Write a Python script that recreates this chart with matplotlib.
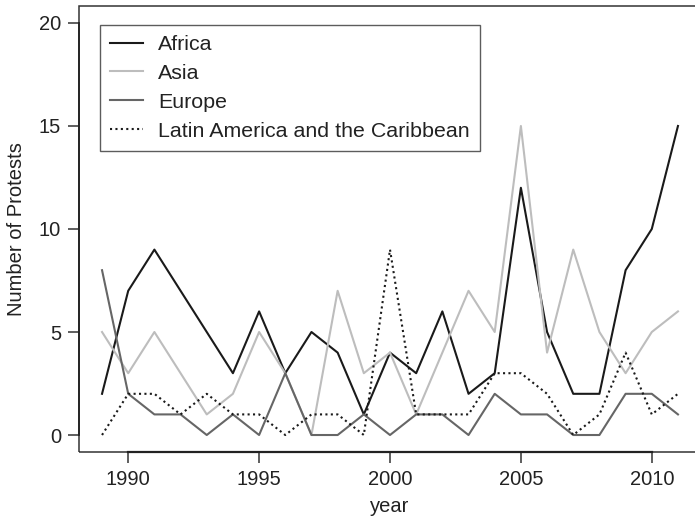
import matplotlib
matplotlib.use("Agg")
import matplotlib.pyplot as plt
from matplotlib.patches import Rectangle

plt.rcParams['font.family'] = ['Liberation Sans', 'DejaVu Sans']

years = list(range(1989, 2012))
africa = [2, 7, 9, 7, 5, 3, 6, 3, 5, 4, 1, 4, 3, 6, 2, 3, 12, 5, 2, 2, 8, 10, 15]
asia = [5, 3, 5, 3, 1, 2, 5, 3, 0, 7, 3, 4, 1, 4, 7, 5, 15, 4, 9, 5, 3, 5, 6]
europe = [8, 2, 1, 1, 0, 1, 0, 3, 0, 0, 1, 0, 1, 1, 0, 2, 1, 1, 0, 0, 2, 2, 1]
latam = [0, 2, 2, 1, 2, 1, 1, 0, 1, 1, 0, 9, 1, 1, 1, 3, 3, 2, 0, 1, 4, 1, 2]
labels = ["Africa", "Asia", "Europe", "Latin America and the Caribbean"]
xticks = [1990, 1995, 2000, 2005, 2010]
yticks = [0, 5, 10, 15, 20]

W, H = 695, 518
fig = plt.figure(figsize=(W / 100, H / 100), dpi=100)
left, right, top, bottom = 79, 701, 6.5, 451.7
ax = fig.add_axes([left / W, (H - bottom) / H, (right - left) / W, (bottom - top) / H])

lw = 1.5
ax.plot(years, africa, color="#1a1a1a", lw=lw, label=labels[0])
ax.plot(years, asia, color="#bdbdbd", lw=lw, label=labels[1])
ax.plot(years, europe, color="#666666", lw=lw, label=labels[2])
ax.plot(years, latam, color="#1a1a1a", lw=lw, ls=(0, (1, 1.6)), label=labels[3])

ax.set_xlim(1988.12, 2011.88)
ax.set_ylim(-0.81, 20.8)
ax.set_xticks(xticks)
ax.set_yticks(yticks)

fs = 14.5
for s in ["top", "right"]:
    ax.spines[s].set_visible(False)
ax.spines["left"].set_bounds(0, 20)
ax.spines["bottom"].set_bounds(1990, 2010)
ax.spines["left"].set_linewidth(1.3)
ax.spines["bottom"].set_linewidth(1.6)
ax.spines["left"].set_color("#222222")
ax.spines["bottom"].set_color("#222222")
ax.add_patch(Rectangle((0, 0), 1, 1, transform=ax.transAxes, fill=False,
                       lw=1.1, edgecolor="#333333", clip_on=False, zorder=0.5))

ax.tick_params(axis="both", direction="out", length=8, width=1.1, color="#333333",
               labelsize=fs, labelcolor="#222222")
ax.tick_params(axis="x", pad=5)
ax.tick_params(axis="y", pad=5)

ax.set_xlabel("year", fontsize=fs, color="#222222", labelpad=6)
ax.set_ylabel("Number of Protests", fontsize=fs, color="#222222", labelpad=9)

leg = ax.legend(loc="upper left", bbox_to_anchor=((100 - left) / (right - left), (bottom - 25) / (bottom - top)),
                borderaxespad=0, fontsize=15.4, frameon=True, fancybox=False,
                handlelength=1.54, handletextpad=0.7, borderpad=0.47, labelspacing=0.46)
leg.get_frame().set_edgecolor("#333333")
leg.get_frame().set_linewidth(1.0)
for t in leg.get_texts():
    t.set_color("#222222")

fig.savefig("out.png", dpi=100)
